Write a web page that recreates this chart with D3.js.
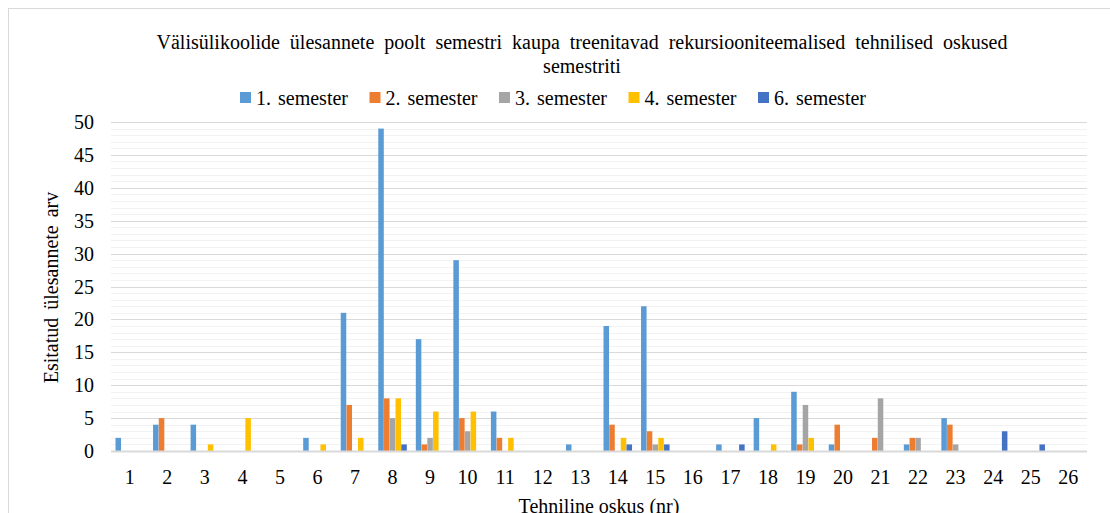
<!DOCTYPE html>
<html>
<head>
<meta charset="utf-8">
<script src="https://cdn.jsdelivr.net/npm/d3@7"></script>
</head>
<body style="margin:0">
<script>
// Välisülikoolide ülesanded: tehnilised oskused semestriti

var skills = d3.range(1, 27).map(String);   // 1..26

var seriesNames = ["1. semester", "2. semester", "3. semester", "4. semester", "6. semester"];
var seriesColors = ["#5B9BD5", "#ED7D31", "#A5A5A5", "#FFC000", "#4472C4"];

// values per skill 1..26
var sem1 = [2, 4, 4, 0, 0, 2, 21, 49, 17, 29, 6, 0, 1, 19, 22, 0, 1, 5, 9, 1, 0, 1, 5, 0, 0, 0];
var sem2 = [0, 5, 0, 0, 0, 0, 7, 8, 1, 5, 2, 0, 0, 4, 3, 0, 0, 0, 1, 4, 2, 2, 4, 0, 0, 0];
var sem3 = [0, 0, 0, 0, 0, 0, 0, 5, 2, 3, 0, 0, 0, 0, 1, 0, 0, 0, 7, 0, 8, 2, 1, 0, 0, 0];
var sem4 = [0, 0, 1, 5, 0, 1, 2, 8, 6, 6, 2, 0, 0, 2, 2, 0, 0, 1, 2, 0, 0, 0, 0, 0, 0, 0];
var sem6 = [0, 0, 0, 0, 0, 0, 0, 1, 0, 0, 0, 0, 0, 1, 1, 0, 1, 0, 0, 0, 0, 0, 0, 3, 1, 0];

var yTicks = [0, 5, 10, 15, 20, 25, 30, 35, 40, 45, 50];

var allSeries = [sem1, sem2, sem3, sem4, sem6];

var width = 1110;
var height = 513;
var font = "'Liberation Serif'";

var plot = { left: 111, right: 1087, top: 122, bottom: 451 };

var svg = d3.select("body").append("svg")
    .attr("width", width)
    .attr("height", height);

// chart border
svg.append("rect")
  .attr("x", 8.5).attr("y", 8.5)
  .attr("width", 1120).attr("height", 520)
  .attr("fill", "white")
  .attr("stroke", "#d9d9d9")
  .attr("stroke-width", 1);

var x = d3.scaleBand()
    .domain(skills)
    .range([plot.left, plot.right])
    .padding(0);

var bw = x.bandwidth();
var x1 = d3.scaleBand()
    .domain(d3.range(seriesNames.length))
    .range([bw * 0.12, bw * 0.88])
    .paddingInner(0.04);

var y = d3.scaleLinear()
    .domain([0, 50])
    .range([plot.bottom, plot.top]);

// minor gridlines
svg.append("g")
  .selectAll("line")
  .data(d3.range(1, 51).filter(function(d) { return d % 5 != 0; }))
  .enter().append("line")
    .attr("x1", plot.left).attr("x2", plot.right)
    .attr("y1", function(d) { return Math.round(y(d)) + 0.5; })
    .attr("y2", function(d) { return Math.round(y(d)) + 0.5; })
    .attr("stroke", "#f2f2f2")
    .attr("stroke-width", 1);

// major gridlines
svg.append("g")
  .selectAll("line")
  .data(yTicks.slice(1))
  .enter().append("line")
    .attr("x1", plot.left).attr("x2", plot.right)
    .attr("y1", function(d) { return Math.round(y(d)) + 0.5; })
    .attr("y2", function(d) { return Math.round(y(d)) + 0.5; })
    .attr("stroke", "#d9d9d9")
    .attr("stroke-width", 1);

// bars
var groups = svg.append("g")
  .selectAll("g")
  .data(skills)
  .enter().append("g")
    .attr("transform", function(d) { return "translate(" + x(d) + ",0)"; });

groups.selectAll("rect")
  .data(function(d, i) {
    return allSeries.map(function(s, k) { return { k: k, v: s[i] }; })
      .filter(function(e) { return e.v > 0; });
  })
  .enter().append("rect")
    .attr("x", function(e) { return x1(e.k); })
    .attr("width", x1.bandwidth())
    .attr("y", function(e) { return y(e.v); })
    .attr("height", function(e) { return y(0) - y(e.v); })
    .attr("fill", function(e) { return seriesColors[e.k]; });

// baseline
svg.append("line")
  .attr("x1", plot.left).attr("x2", plot.right)
  .attr("y1", plot.bottom + 0.5).attr("y2", plot.bottom + 0.5)
  .attr("stroke", "#d9d9d9")
  .attr("stroke-width", 2);

// y tick labels
svg.append("g")
  .selectAll("text")
  .data(yTicks)
  .enter().append("text")
    .attr("x", 94)
    .attr("y", function(d) { return y(d); })
    .attr("dy", "0.35em")
    .attr("text-anchor", "end")
    .attr("font-size", "20px")
    .style("font-family", font)
    .text(function(d) { return d; });

// x tick labels
svg.append("g")
  .selectAll("text")
  .data(skills)
  .enter().append("text")
    .attr("x", function(d) { return x(d) + bw / 2; })
    .attr("y", 477)
    .attr("dy", "0.35em")
    .attr("text-anchor", "middle")
    .attr("font-size", "20px")
    .style("font-family", font)
    .text(function(d) { return d; });

// axis titles
svg.append("text")
  .attr("transform", "translate(51," + ((plot.top + plot.bottom) / 2 + 1) + ") rotate(-90)")
  .attr("text-anchor", "middle")
  .attr("dy", "0.35em")
  .attr("font-size", "20px")
  .attr("word-spacing", "3px")
  .style("font-family", font)
  .text("Esitatud ülesannete arv");

svg.append("text")
  .attr("x", (plot.left + plot.right) / 2)
  .attr("y", 506)
  .attr("dy", "0.35em")
  .attr("text-anchor", "middle")
  .attr("font-size", "20px")
  .style("font-family", font)
  .text("Tehniline oskus (nr)");

// title
svg.append("text")
  .attr("x", 582)
  .attr("y", 42)
  .attr("dy", "0.35em")
  .attr("text-anchor", "middle")
  .attr("font-size", "20px")
  .attr("word-spacing", "5px")
  .style("font-family", font)
  .text("Välisülikoolide ülesannete poolt semestri kaupa treenitavad rekursiooniteemalised tehnilised oskused");

svg.append("text")
  .attr("x", 582)
  .attr("y", 66)
  .attr("dy", "0.35em")
  .attr("text-anchor", "middle")
  .attr("font-size", "20px")
  .style("font-family", font)
  .text("semestriti");

// legend
var legend = svg.append("g")
  .selectAll("g")
  .data(seriesNames)
  .enter().append("g")
    .attr("transform", function(d, i) { return "translate(" + (240 + i * 129.5) + ",98)"; });

legend.append("rect")
  .attr("x", 0).attr("y", -6)
  .attr("width", 11).attr("height", 11)
  .attr("fill", function(d, i) { return seriesColors[i]; });

legend.append("text")
  .attr("x", 16)
  .attr("dy", "0.35em")
  .attr("font-size", "20px")
  .attr("word-spacing", "2px")
  .style("font-family", font)
  .text(function(d) { return d; });
</script>
</body>
</html>
